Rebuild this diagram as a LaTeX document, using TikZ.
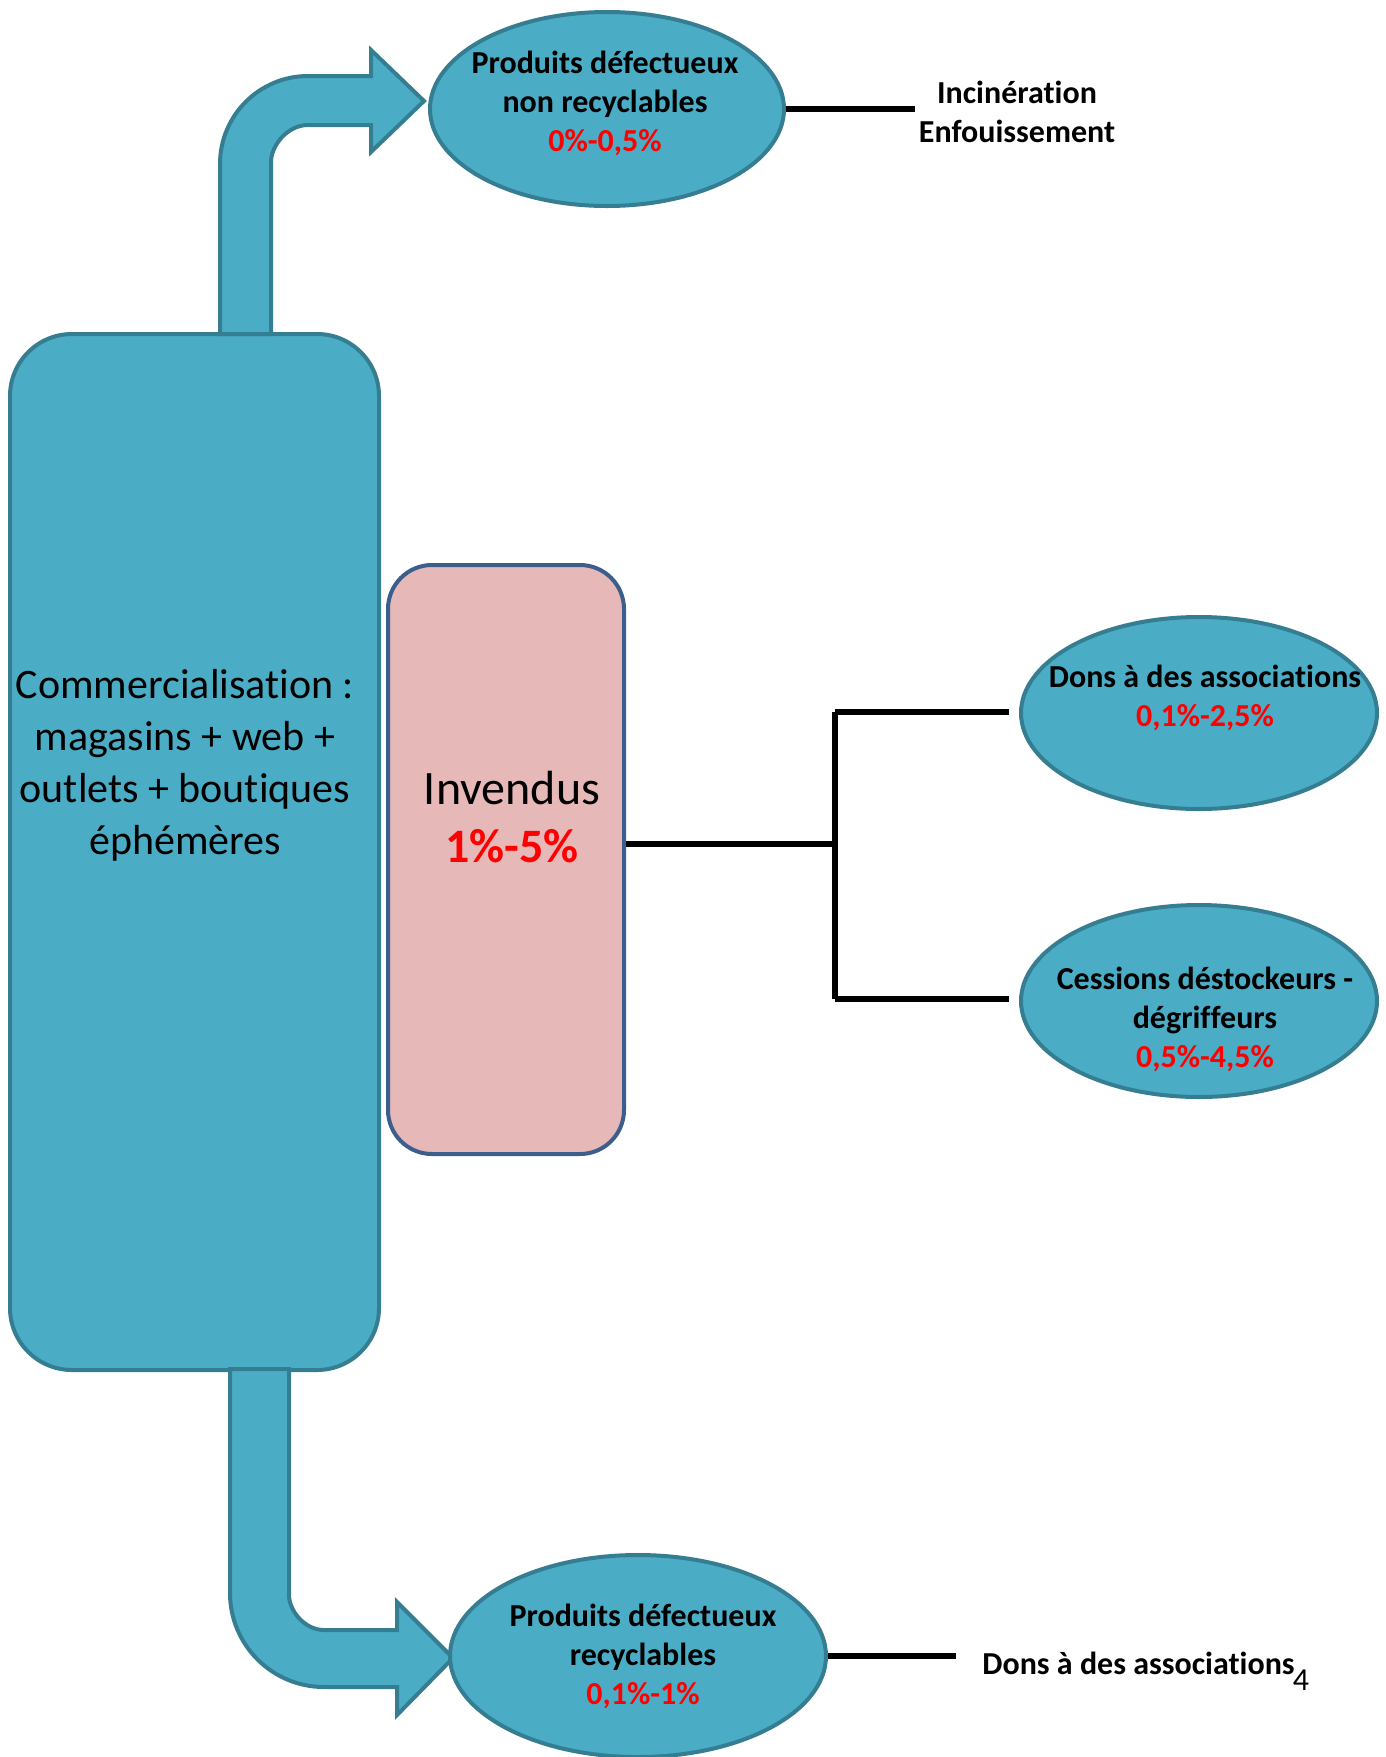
\documentclass[tikz,border=0pt]{standalone}
\usepackage{fontspec}
\setmainfont{Carlito}[Ligatures=NoCommon]
\usetikzlibrary{shapes.geometric}
\definecolor{aqua}{HTML}{4BACC6}
\definecolor{aqualine}{HTML}{357D91}
\definecolor{pinkfill}{HTML}{E6B9B8}
\definecolor{navyline}{HTML}{3B5E8C}
\begin{document}
\begin{tikzpicture}[x=0.5pt,y=-0.5pt,
  box/.style={draw=aqualine, fill=aqua, line width=2pt, rounded corners=31pt, inner sep=0pt},
  oval/.style={ellipse, draw=aqualine, fill=aqua, line width=2pt, inner sep=0pt},
  bentarrow/.style={draw=aqualine, fill=aqua, line width=2pt, line join=miter},
  conn/.style={line width=2.8pt, black},
  lbl/.style={font=\fontsize{16}{19.5}\selectfont\bfseries, align=center, inner sep=0pt}
]
\useasboundingbox (0,0) rectangle (1386,1757);

% main box
\node[box, minimum width=184.5pt, minimum height=518pt] (com) at (194.5,852) {};
\node[font=\fontsize{21}{26}\selectfont, align=center, inner sep=0pt] (comtxt) at (185,765)
  {Commercialisation :\\magasins + web +\\outlets + boutiques\\éphémères};

% bent arrows
\draw[bentarrow] (220,334) -- (220,164) .. controls (220,115.4) and (259.4,76) .. (308,76)
  -- (371,76) -- (371,50) -- (424,101) -- (371,152) -- (371,125) -- (308,125)
  .. controls (287.6,125) and (271,145.4) .. (271,162) -- (271,334) -- cycle;
\draw[bentarrow] (230,1369) -- (230,1593) .. controls (230,1644.9) and (272.1,1687) .. (324,1687)
  -- (397,1687) -- (397,1715) -- (453,1658) -- (397,1602) -- (397,1630) -- (324,1630)
  .. controls (304.7,1630) and (289,1610.7) .. (289,1595) -- (289,1369) -- cycle;

% invendus
\node[draw=navyline, fill=pinkfill, line width=2pt, rounded corners=22pt,
  minimum width=118pt, minimum height=294.5pt, inner sep=0pt] (inv) at (506,859.5) {};
\node[align=center, inner sep=0pt, font=\fontsize{24}{29}\selectfont] (invtxt) at (512,817)
  {Invendus\\\textcolor{red}{\bfseries 1\%-5\%}};

% ellipses
\node[oval, minimum width=177pt, minimum height=97pt] (ndr) at (607,109) {};
\node[lbl] (ndrtxt) at (605,103) {Produits défectueux\\non recyclables\\\textcolor{red}{0\%-0,5\%}};

\node[oval, minimum width=178pt, minimum height=96pt] (dons) at (1199,713) {};
\node[lbl] (donstxt) at (1205,697.5) {Dons à des associations\\\textcolor{red}{0,1\%-2,5\%}};

\node[oval, minimum width=178pt, minimum height=96pt] (ces) at (1199,1001) {};
\node[lbl] (cestxt) at (1205,1019) {Cessions déstockeurs -\\dégriffeurs\\\textcolor{red}{0,5\%-4,5\%}};

\node[oval, minimum width=188pt, minimum height=101pt] (pdr) at (638,1656) {};
\node[lbl] (pdrtxt) at (643,1656) {Produits défectueux\\recyclables\\\textcolor{red}{0,1\%-1\%}};

% side labels
\node[lbl] (inc) at (1017,111.5) {Incinération\\Enfouissement};
\node[lbl, anchor=west] (donsb) at (982,1663) {Dons à des associations};
\node[font=\fontsize{16}{19}\selectfont, inner sep=0pt] (pnum) at (1301,1680) {4};

% connectors
\coordinate (incend) at (915,109);
\draw[conn] (ndr.east) -- (ndr.east -| incend);

\coordinate (j) at (835,844);
\coordinate (jt) at (835,712);
\coordinate (jb) at (835,999);
\draw[conn] (inv.east |- j) -- (j);
\draw[conn] (jt) -- (jb);
\draw[conn] (jt) -- ([xshift=-5pt]dons.west |- jt);
\draw[conn] (jb) -- ([xshift=-5pt]ces.west |- jb);

\coordinate (pdrend) at (956,1656);
\draw[conn] (pdr.east) -- (pdr.east -| pdrend);
\end{tikzpicture}
\end{document}
